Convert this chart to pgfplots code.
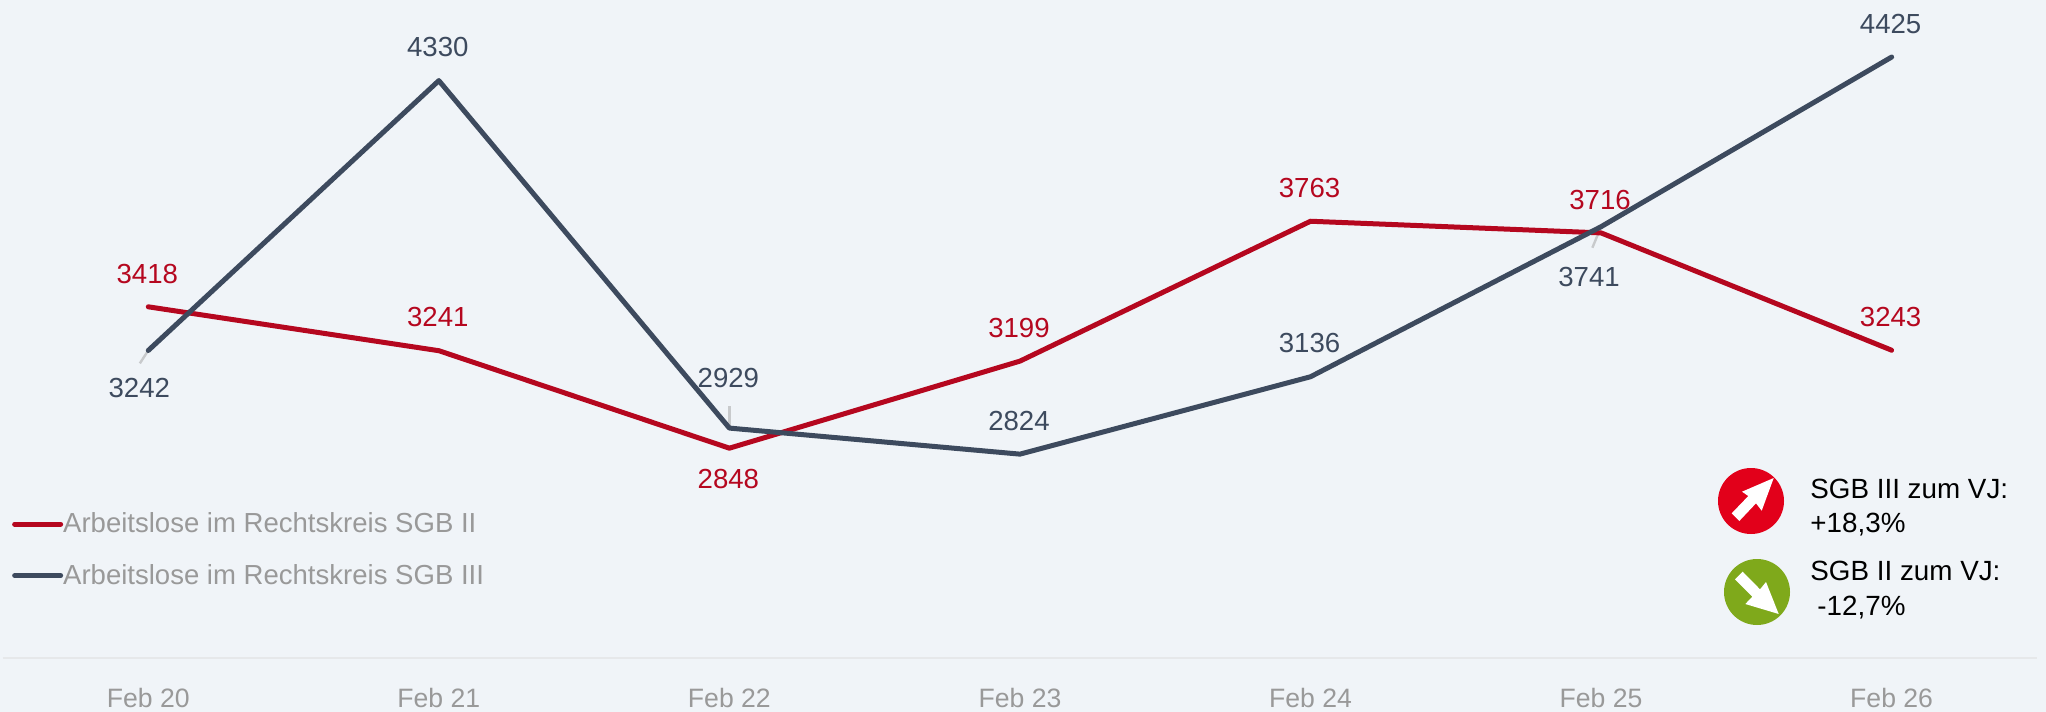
\documentclass[border=0pt]{standalone}
\usepackage{fontspec}
\setmainfont{Liberation Sans}
\usepackage{pgfplots}
\pgfplotsset{compat=1.18}
\definecolor{bgc}{HTML}{F0F4F8}
\definecolor{redl}{HTML}{B5071F}
\definecolor{bluel}{HTML}{3D4A5E}
\definecolor{greyt}{HTML}{999999}
\definecolor{axl}{HTML}{E6E8EA}
\definecolor{leader}{HTML}{C8CACC}
\definecolor{iconred}{HTML}{E2001A}
\definecolor{icongreen}{HTML}{7FA91B}
\begin{document}
\begin{tikzpicture}
\useasboundingbox (0,0) rectangle (1023pt,-356pt);
\fill[bgc] (0,0) rectangle (1023pt,-356pt);
\begin{axis}[
  at={(1.5pt,-329pt)}, anchor=south west,
  scale only axis, width=1017pt, height=329pt,
  xmin=-0.5, xmax=6.5, ymin=2002, ymax=4655,
  axis x line=bottom, axis y line=none,
  x axis line style={-, draw=axl, line width=1pt},
  xtick={0,1,2,3,4,5,6},
  xticklabels={Feb 20,Feb 21,Feb 22,Feb 23,Feb 24,Feb 25,Feb 26},
  major tick length=0pt,
  xticklabel style={font=\fontsize{13.3}{16}\selectfont, text=greyt, anchor=base, yshift=-24.5pt},
  clip=false,
  /pgf/number format/assume math mode=true,
  /pgf/number format/1000 sep={},
  /pgf/number format/fixed,
  /pgf/number format/precision=0,
  legend cell align=left,
  legend style={at={(axis description cs:0.0045,0.221)}, anchor=north west, draw=none, fill=none,
    inner sep=0pt, outer sep=0pt, font=\fontsize{13.77}{16}\selectfont, text=greyt,
    row sep=14.3pt, nodes={inner sep=0pt, outer sep=0pt}},
  legend image code/.code={\draw[#1, line cap=round] (0,0) -- (23pt,0);},
  /tikz/every even column/.append style={column sep=3.7pt},
]
% leader lines
\addplot[forget plot, leader, line width=1.2pt] coordinates {(0,3242) (-0.029,3190)};
\addplot[forget plot, leader, line width=1.2pt] coordinates {(2,2929) (2,3020)};
\addplot[forget plot, leader, line width=1.2pt] coordinates {(5,3741) (4.97,3656)};
% SGB II
\addplot[redl, line width=2.5pt, line cap=round, line join=round, no markers,
  visualization depends on={\thisrow{dx}\as\dx},
  visualization depends on={\thisrow{dy}\as\dy},
  nodes near coords={\pgfmathprintnumber{\pgfplotspointmeta}},
  every node near coord/.append style={anchor=center, text=redl, inner sep=0pt,
    font=\fontsize{13.8}{16}\selectfont, xshift=\dx*0.5pt, yshift=\dy*0.5pt},
] table {
x y dx dy
0 3418 -1 33
1 3241 -1 34
2 2848 -1 -31
3 3199 -1 33
4 3763 -1 33
5 3716 -1 33
6 3243 -1 33
};
\addlegendentry{Arbeitslose im Rechtskreis SGB II}
% SGB III
\addplot[bluel, line width=2.5pt, line cap=round, line join=round, no markers,
  visualization depends on={\thisrow{dx}\as\dx},
  visualization depends on={\thisrow{dy}\as\dy},
  nodes near coords={\pgfmathprintnumber{\pgfplotspointmeta}},
  every node near coord/.append style={anchor=center, text=bluel, inner sep=0pt,
    font=\fontsize{13.8}{16}\selectfont, xshift=\dx*0.5pt, yshift=\dy*0.5pt},
] table {
x y dx dy
0 3242 -9 -38
1 4330 -1 34
2 2929 -1 50
3 2824 -1 33
4 3136 -1 34
5 3741 -12 -50
6 4425 -1 33
};
\addlegendentry{Arbeitslose im Rechtskreis SGB III}
\end{axis}
% status icons
\begin{scope}[x=0.5pt,y=-0.5pt]
\fill[iconred] (1751,501) circle[radius=16.5pt];
\fill[white] (1773.7,478) -- (1742,491.7) -- (1748.3,496) -- (1731.7,513.3) -- (1739.3,521) -- (1756,503.3) -- (1761.7,510.7) -- cycle;
\fill[icongreen] (1757,592) circle[radius=16.5pt];
\fill[white] (1778.7,614) -- (1766,582) -- (1760,589.3) -- (1742.7,571.7) -- (1735,579.3) -- (1752.3,596.7) -- (1745.3,604) -- cycle;
\begin{scope}[every node/.style={anchor=base west, inner sep=0pt, text=black, font=\fontsize{13.9}{16}\selectfont}]
\node at (1810,498) {SGB III zum VJ:};
\node at (1810,532) {+18,3\%};
\node at (1810,580) {SGB II zum VJ:};
\node at (1817,615) {-12,7\%};
\end{scope}
\end{scope}
\end{tikzpicture}
\end{document}
